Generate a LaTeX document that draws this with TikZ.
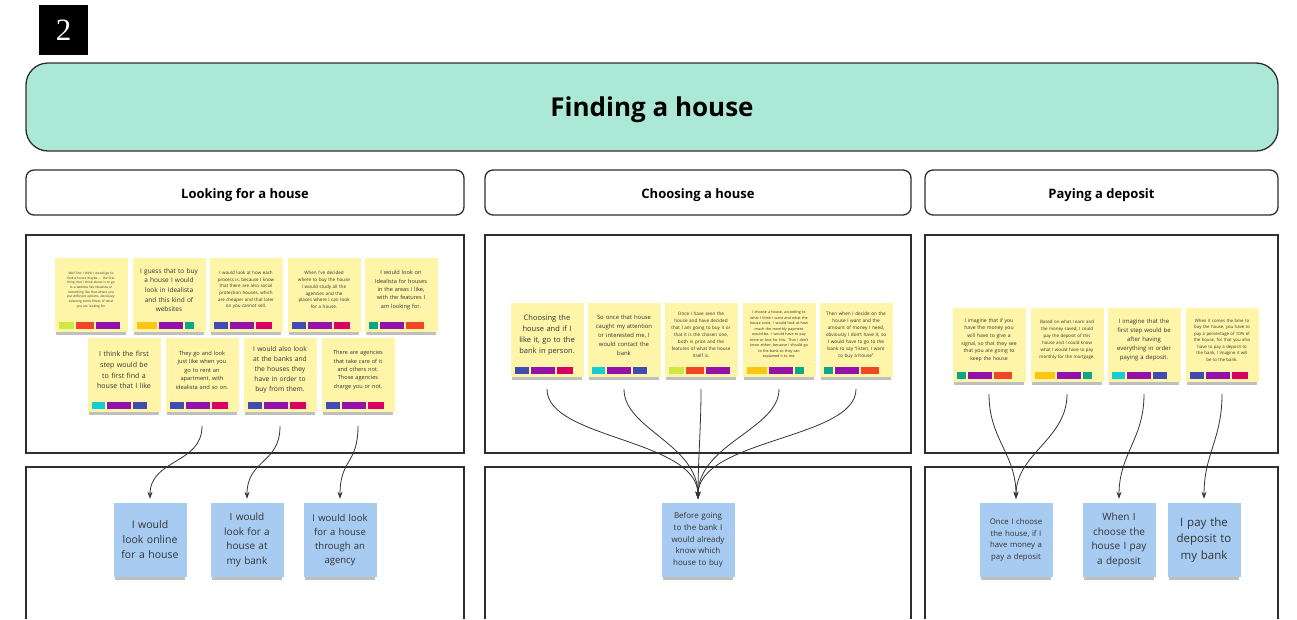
\documentclass[tikz,border=0pt]{standalone}
\usepackage{fontspec}
\setmainfont{Open Sans}
\newfontfamily\numfont{Liberation Serif}
\usetikzlibrary{arrows.meta,positioning,shadows}

\definecolor{mint}{HTML}{ABE9D6}
\definecolor{noteyellow}{HTML}{FEF5A9}
\definecolor{noteblue}{HTML}{A8CBF2}
\definecolor{frame}{HTML}{2E2E2E}
\definecolor{ink}{HTML}{333333}
% tag colours
\definecolor{tagred}{HTML}{F24726}
\definecolor{tagyellow}{HTML}{FAC710}
\definecolor{taglime}{HTML}{CEE741}
\definecolor{tagteal}{HTML}{0CA789}
\definecolor{tagcyan}{HTML}{12CDD4}
\definecolor{tagblue}{HTML}{414BB2}
\definecolor{tagpurple}{HTML}{9510AC}
\definecolor{tagpink}{HTML}{DA0063}

\newcommand\notesize[2]{\fontsize{#1}{#2}\selectfont}

\tikzset{
  lane/.style={draw=frame, line width=1.3pt, rounded corners=8pt, fill=white,
    minimum height=45pt, text height=12pt, text depth=0pt, font=\bfseries\notesize{13}{15}},
  panel/.style={draw=frame, line width=1.3pt},
  note/.style={fill=noteyellow, minimum width=73pt, minimum height=74pt, inner sep=0pt,
    drop shadow={shadow xshift=0pt, shadow yshift=-4pt, shadow scale=0.97, opacity=.25, fill=black}},
  answer/.style={note, fill=noteblue, text=ink, text width=70pt, align=center},
  notetext/.style={text width=70pt, align=center, text=ink, inner sep=0pt},
  tag/.style={minimum height=7pt, inner sep=0pt},
  t-red/.style={tag, fill=tagred, minimum width=18pt},
  t-yellow/.style={tag, fill=tagyellow, minimum width=20pt},
  t-lime/.style={tag, fill=taglime, minimum width=15pt},
  t-teal/.style={tag, fill=tagteal, minimum width=9pt},
  t-cyan/.style={tag, fill=tagcyan, minimum width=13pt},
  t-blue/.style={tag, fill=tagblue, minimum width=14pt},
  t-purple/.style={tag, fill=tagpurple, minimum width=24pt},
  t-pink/.style={tag, fill=tagpink, minimum width=16pt},
  flow/.style={draw=ink, line width=.8pt, -{Stealth[length=7pt,width=5pt]}},
}

% yellow sticky: name, centre, font, text, three tag colours
\newcommand\sticky[7]{%
  \node[note] (#1) at (#2) {};
  \node[notetext, font=#3] (#1-txt) at ([yshift=5pt]#1.center) {#4};
  \node[t-#5, above right=3pt and 4pt of #1.south west] (#1-t1) {};
  \node[t-#6, right=2pt of #1-t1] (#1-t2) {};
  \node[t-#7, right=2pt of #1-t2] (#1-t3) {};
}

\begin{document}
\begin{tikzpicture}[x=1pt, y=-1pt]
 \useasboundingbox (0,0) rectangle (1297,619);

 % heading
 \node[fill=black, minimum width=49pt, minimum height=50pt, text=white,
   font=\numfont\notesize{31}{31}] (num) at (63.5,30) {2};
 \node[draw=frame, line width=1.3pt, rounded corners=22pt, fill=mint,
   minimum width=1252pt, minimum height=88pt, text height=19pt, text depth=0pt,
   font=\bfseries\notesize{26}{30}] (title) at (652,107) {Finding a house};

 % lanes
 \node[lane, minimum width=438pt] (look) at (245,192.5) {Looking for a house};
 \node[lane, minimum width=426pt] (choose) at (698,192.5) {Choosing a house};
 \node[lane, minimum width=353pt] (pay) at (1101.5,192.5) {Paying a deposit};

 \draw[panel] (26,235) rectangle (464,453);
 \draw[panel] (485,235) rectangle (911,453);
 \draw[panel] (925,235) rectangle (1278,453);
 \draw[panel] (26,619) -- (26,467) -- (464,467) -- (464,619);
 \draw[panel] (485,619) -- (485,467) -- (911,467) -- (911,619);
 \draw[panel] (925,619) -- (925,467) -- (1278,467) -- (1278,619);

 % looking for a house
 \sticky{n1}{91,295}{\notesize{3.2}{4.7}}{Well first I think I would go to\\find a house maybe ... the first\\thing that I think about is to go\\to a website like Idealista or\\something like that where you\\put different options, obviously\\selecting some filters of what\\you are looking for}{lime}{red}{purple}
 \sticky{n2}{169,295}{\notesize{6.5}{9.7}}{I guess that to buy\\a house I would\\look in Idealista\\and this kind of\\websites}{yellow}{purple}{teal}
 \sticky{n3}{246,295}{\notesize{4.5}{6.7}}{I would look at how each\\process is, because I know\\that there are also social\\protection houses, which\\are cheaper and that later\\on you cannot sell.}{blue}{purple}{pink}
 \sticky{n4}{324,295}{\notesize{4.6}{6.8}}{When I've decided\\where to buy the house\\I would study all the\\agencies and the\\places where I can look\\for a house.}{blue}{purple}{pink}
 \sticky{n5}{401,295}{\notesize{5.6}{8.3}}{I would look on\\Idealista for houses\\in the areas i like,\\with the features I\\am looking for.}{teal}{purple}{red}
 \sticky{n6}{124,375}{\notesize{7.1}{10.7}}{I think the first\\step would be\\to first find a\\house that I like}{cyan}{purple}{blue}
 \sticky{n7}{202,375}{\notesize{5.7}{8.5}}{They go and look\\just like when you\\go to rent an\\apartment, with\\idealista and so on.}{blue}{purple}{pink}
 \sticky{n8}{280,375}{\notesize{6.7}{10}}{I would also look\\at the banks and\\the houses they\\have in order to\\buy from them.}{blue}{purple}{pink}
 \sticky{n9}{358,375}{\notesize{5.6}{8.3}}{There are agencies\\that take care of it\\and others not.\\Those agencies\\charge you or not.}{blue}{purple}{pink}

 \node[answer, font=\notesize{10.5}{15}] (b1) at (150,540) {I would\\look online\\for a house};
 \node[answer, font=\notesize{10}{14.5}] (b2) at (247,540) {I would\\look for a\\house at\\my bank};
 \node[answer, font=\notesize{9.5}{14}] (b3) at (340,540) {I would look\\for a house\\through an\\agency};

 \draw[flow] ([yshift=-14pt]n7.south) .. controls +(0,38) and +(0,-40) .. ([yshift=4pt]b1.north);
 \draw[flow] ([yshift=-14pt]n8.south) .. controls +(0,38) and +(0,-40) .. ([yshift=4pt]b2.north);
 \draw[flow] ([yshift=-14pt]n9.south) .. controls +(0,38) and +(0,-40) .. ([yshift=4pt]b3.north);

 % choosing a house
 \sticky{c1}{547,340}{\notesize{7.5}{11}}{Choosing the\\house and if I\\like it, go to the\\bank in person.}{blue}{purple}{pink}
 \sticky{c2}{624,340}{\notesize{5.9}{8.9}}{So once that house\\caught my attention\\or interested me, I\\would contact the\\bank}{cyan}{purple}{blue}
 \sticky{c3}{701,340}{\notesize{4.6}{7}}{Once I have seen the\\house and have decided\\that I am going to buy it or\\that it is the chosen one,\\both in price and the\\features of what the house\\itself is.}{lime}{red}{purple}
 \sticky{c4}{779,340}{\notesize{3.7}{5.5}}{I choose a house, according to\\what I think I want and what the\\house costs. I would look at how\\much the monthly payment\\would be. I would have to pay\\more or less for this. That I don't\\know either, because I should go\\to the bank so they can\\explained it to me.}{yellow}{purple}{teal}
 \sticky{c5}{856,340}{\notesize{4.7}{7}}{Then when I decide on the\\house I want and the\\amount of money I need,\\obviously I don't have it, so\\I would have to go to the\\bank to say ``listen, I want\\to buy a house''}{teal}{purple}{red}

 \node[answer, font=\notesize{8}{11.8}] (b4) at (698,540) {Before going\\to the bank I\\would already\\know which\\house to buy};

 \draw[flow] ([yshift=-12pt]c1.south) .. controls +(0,50) and +(0,-60) .. ([yshift=4pt]b4.north);
 \draw[flow] ([yshift=-12pt]c2.south) .. controls +(0,40) and +(0,-55) .. ([yshift=4pt]b4.north);
 \draw[flow] ([yshift=-12pt]c3.south) .. controls +(0,40) and +(0,-40) .. ([yshift=4pt]b4.north);
 \draw[flow] ([yshift=-12pt]c4.south) .. controls +(0,40) and +(0,-55) .. ([yshift=4pt]b4.north);
 \draw[flow] ([yshift=-12pt]c5.south) .. controls +(0,50) and +(0,-60) .. ([yshift=4pt]b4.north);

 % paying a deposit
 \sticky{p1}{989,345}{\notesize{5.1}{7.7}}{I imagine that if you\\have the money you\\will have to give a\\signal, so that they see\\that you are going to\\keep the house}{teal}{purple}{red}
 \sticky{p2}{1067,345}{\notesize{4.4}{6.9}}{Based on what I earn and\\the money saved, I could\\pay the deposit of this\\house and I could know\\what I would have to pay\\monthly for the mortgage.}{yellow}{purple}{teal}
 \sticky{p3}{1144,345}{\notesize{6}{9}}{I imagine that the\\first step would be\\after having\\everything in order\\paying a deposit.}{cyan}{purple}{blue}
 \sticky{p4}{1222,345}{\notesize{4.3}{6.5}}{When it comes the time to\\buy the house, you have to\\pay a percentage of 10\% of\\the house, for that you also\\have to pay a deposit to\\the bank, I imagine it will\\be to the bank.}{blue}{purple}{pink}

 \node[answer, font=\notesize{7.8}{11.5}] (b5) at (1016,540) {Once I choose\\the house, if I\\have money a\\pay a deposit};
 \node[answer, font=\notesize{10}{14.5}] (b6) at (1119,540) {When I\\choose the\\house I pay\\a deposit};
 \node[answer, font=\notesize{11.5}{16.7}] (b7) at (1204,540) {I pay the\\deposit to\\my bank};

 \draw[flow] ([yshift=-12pt]p1.south) .. controls +(0,45) and +(0,-45) .. ([yshift=4pt]b5.north);
 \draw[flow] ([yshift=-12pt]p2.south) .. controls +(0,45) and +(0,-45) .. ([yshift=4pt]b5.north);
 \draw[flow] ([yshift=-12pt]p3.south) .. controls +(0,45) and +(0,-45) .. ([yshift=4pt]b6.north);
 \draw[flow] ([yshift=-12pt]p4.south) .. controls +(0,45) and +(0,-45) .. ([yshift=4pt]b7.north);
\end{tikzpicture}
\end{document}
